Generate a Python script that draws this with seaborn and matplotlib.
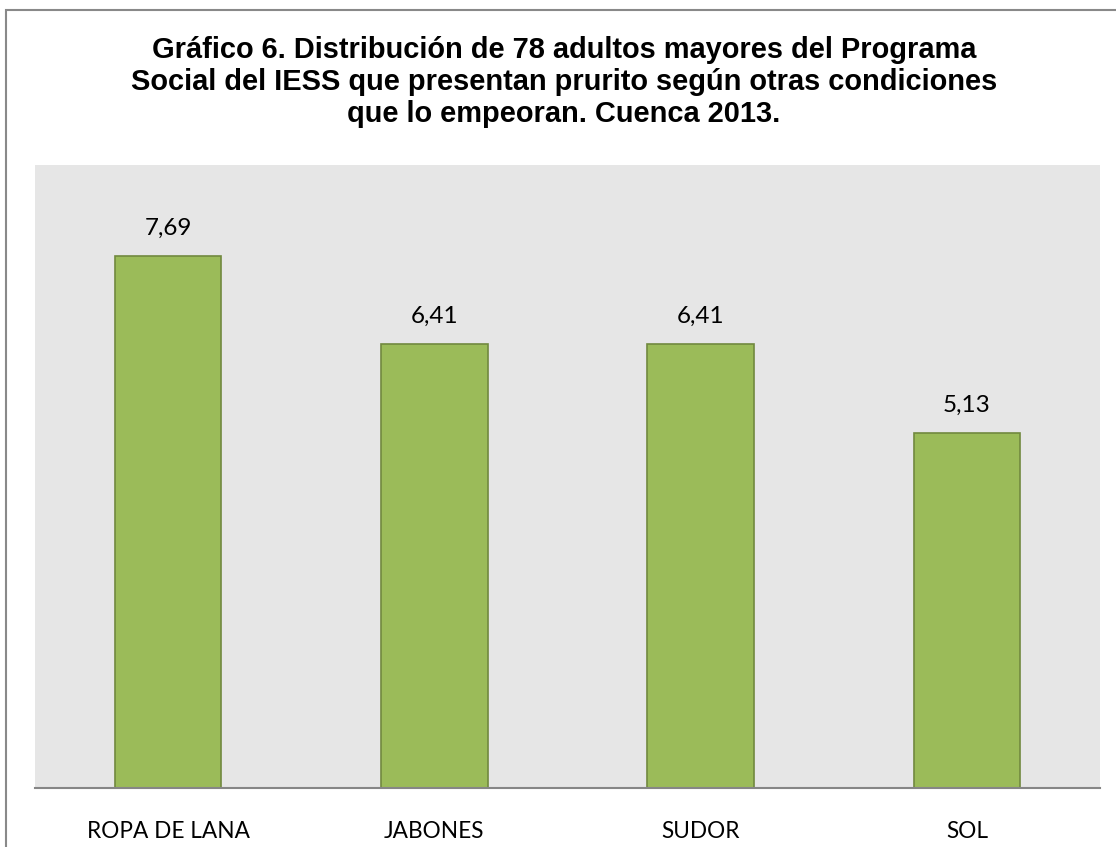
import matplotlib
matplotlib.use("Agg")
import matplotlib.pyplot as plt
import seaborn as sns
import pandas as pd
from matplotlib import font_manager as fm
from matplotlib.patches import Rectangle

# datos
condiciones = ["ROPA DE LANA", "JABONES", "SUDOR", "SOL"]
porcentajes = [7.69, 6.41, 6.41, 5.13]
etiquetas = ["7,69", "6,41", "6,41", "5,13"]

df = pd.DataFrame({"condicion": condiciones, "porcentaje": porcentajes})

sns.set_style("white")
plt.rcParams["font.family"] = ["Lato", "DejaVu Sans"]
plt.rcParams["text.color"] = "black"

# fuente del titulo: Liberation Sans Bold (no la Narrow)
titulo_font = None
for f in fm.fontManager.ttflist:
    if f.name == "Liberation Sans" and f.weight in (700, "bold") and f.style == "normal":
        titulo_font = fm.FontProperties(fname=f.fname, size=20.9)
        break
if titulo_font is None:
    titulo_font = fm.FontProperties(family="DejaVu Sans", weight="bold", size=19)

W, H = 1116, 847
fig = plt.figure(figsize=(W / 100, H / 100), dpi=100)
ax = fig.add_axes([35 / W, (H - 788) / H, 1065 / W, 623 / H])

sns.barplot(data=df, x="condicion", y="porcentaje", color="#9BBB59",
            saturation=1, width=0.4, edgecolor="#71893F", linewidth=1.2, ax=ax)

ax.set_facecolor("#E6E6E6")
ax.set_ylim(0, 9)
ax.set_xlim(-0.5, 3.5)
ax.set_xlabel("")
ax.set_ylabel("")
ax.set_yticks([])
for s in ["top", "left", "right"]:
    ax.spines[s].set_visible(False)
ax.spines["bottom"].set_color("#868686")
ax.spines["bottom"].set_linewidth(1.5)
ax.tick_params(axis="x", length=0, pad=24, labelsize=16.3, labelcolor="black")

for i, (v, t) in enumerate(zip(porcentajes, etiquetas)):
    ax.annotate(t, (i, v), xytext=(0, 20), textcoords="offset points",
                ha="center", va="center", fontsize=17.5, color="black")

fig.text(564 / W, (H - 82) / H,
         "Gráfico 6. Distribución de 78 adultos mayores del Programa\n"
         "Social del IESS que presentan prurito según otras condiciones\n"
         "que lo empeoran. Cuenca 2013.",
         ha="center", va="center", fontproperties=titulo_font,
         color="black", linespacing=1.16)

# marco exterior del grafico
fig.patches.append(Rectangle((5.5 / W, -0.1), 1.2, (H - 10.5) / H + 0.1,
                             transform=fig.transFigure, fill=False,
                             edgecolor="#898989", linewidth=1.5, clip_on=False))

fig.savefig("out.png", dpi=100)
